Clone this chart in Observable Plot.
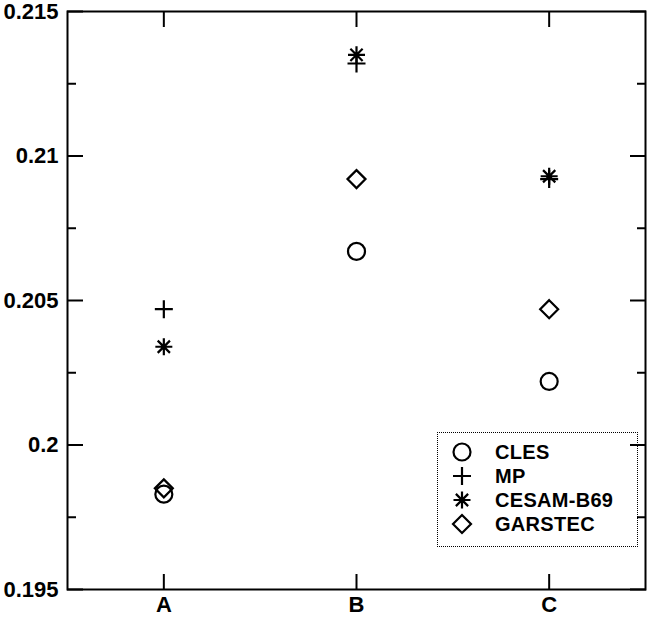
<!DOCTYPE html>
<html><head><meta charset="utf-8">
<script src="https://cdn.jsdelivr.net/npm/d3@7"></script>
<script src="https://cdn.jsdelivr.net/npm/@observablehq/plot@0.6"></script>
<style>
body{margin:0;background:#fff;}
#wrap{position:relative;width:649px;height:618px;}
#legend{position:absolute;left:437px;top:432px;width:201px;height:115px;border:1px dotted #000;box-sizing:border-box;font:bold 20px "Liberation Sans",Arial,sans-serif;letter-spacing:0.3px;color:#000;}
.row{position:absolute;left:0;height:24px;display:flex;align-items:center;}
.row svg{margin-left:12px;}
.row span{margin-left:21px;}
</style></head><body><div id="wrap"></div>
<script>
// ---- data ----
const models = ["CLES", "MP", "CESAM-B69", "GARSTEC"];
const cases = ["A", "B", "C"];
const clesValues = [0.1983, 0.2067, 0.2022];
const mpValues = [0.2047, 0.2132, 0.2092];
const cesamValues = [0.2034, 0.2135, 0.2093];
const garstecValues = [0.1985, 0.2092, 0.2047];
const yTicks = [0.195, 0.2, 0.205, 0.21, 0.215];
const yMinorTicks = [0.1975, 0.2025, 0.2075, 0.2125];

// ---- symbols ----
const rad = s => Math.sqrt(s / Math.PI);
const symCircle = {draw(c, s) { const r = rad(s); c.moveTo(r, 0); c.arc(0, 0, r, 0, 2 * Math.PI); }};
const symPlus = {draw(c, s) { const r = rad(s); c.moveTo(-r, 0); c.lineTo(r, 0); c.moveTo(0, -r); c.lineTo(0, r); }};
const symStar = {draw(c, s) { const r = rad(s), d = r * 0.72;
  c.moveTo(-r, 0); c.lineTo(r, 0); c.moveTo(0, -r); c.lineTo(0, r);
  c.moveTo(-d, -d); c.lineTo(d, d); c.moveTo(-d, d); c.lineTo(d, -d); }};
const symDiamond = {draw(c, s) { const r = rad(s); c.moveTo(0, -r); c.lineTo(r, 0); c.lineTo(0, r); c.lineTo(-r, 0); c.closePath(); }};
const symbols = [symCircle, symPlus, symStar, symDiamond];
const radii = [8.5, 9, 8.5, 9];
const series = [clesValues, mpValues, cesamValues, garstecValues];

const rows = models.map((m, k) => series[k].map((v, i) => ({model: m, x: i + 1, value: v})));

const yFmt = d => String(+d.toFixed(4));

const plot = Plot.plot({
  width: 649, height: 618,
  marginLeft: 67, marginRight: 4, marginTop: 11, marginBottom: 29,
  style: {fontFamily: "'Liberation Sans', Arial, sans-serif", fontWeight: "bold", fontSize: "22px", color: "#000", background: "#fff"},
  x: {type: "linear", domain: [0.5, 3.5]},
  y: {domain: [0.195, 0.215]},
  marks: [
    Plot.axisX({anchor: "bottom", ticks: [1, 2, 3], tickSize: 0, tickPadding: 7, tickFormat: i => cases[i - 1], label: null, fontSize: 22}),
    Plot.axisX({anchor: "bottom", ticks: [1, 2, 3], tickSize: -15, text: null, label: null, strokeWidth: 2}),
    Plot.axisX({anchor: "top", ticks: [1, 2, 3], tickSize: -15, text: null, label: null, strokeWidth: 2}),
    Plot.axisY({anchor: "left", ticks: yTicks, tickSize: 0, tickPadding: 9, tickFormat: yFmt, label: null, fontSize: 22}),
    Plot.axisY({anchor: "left", ticks: yTicks, tickSize: -16, text: null, label: null, strokeWidth: 2}),
    Plot.axisY({anchor: "left", ticks: yMinorTicks, tickSize: -9, text: null, label: null, strokeWidth: 2}),
    Plot.axisY({anchor: "right", ticks: yTicks, tickSize: -16, text: null, label: null, strokeWidth: 2}),
    Plot.axisY({anchor: "right", ticks: yMinorTicks, tickSize: -9, text: null, label: null, strokeWidth: 2}),
    Plot.frame({stroke: "#000", strokeWidth: 2}),
    ...rows.map((data, k) => Plot.dot(data, {x: "x", y: "value", symbol: symbols[k], r: radii[k], stroke: "#000", fill: "none", strokeWidth: 2.2}))
  ]
});
const wrap = document.getElementById("wrap");
wrap.appendChild(plot);

// ---- legend ----
const legend = document.createElement("div");
legend.id = "legend";
models.forEach((m, k) => {
  const row = document.createElement("div");
  row.className = "row";
  row.style.top = (7 + 24 * k) + "px";
  const p = d3.path();
  symbols[k].draw(p, Math.PI * radii[k] * radii[k]);
  row.innerHTML = `<svg width="24" height="24" viewBox="-12 -12 24 24"><path d="${p.toString()}" fill="none" stroke="#000" stroke-width="2.2"/></svg><span>${m}</span>`;
  legend.appendChild(row);
});
wrap.appendChild(legend);
</script></body></html>
